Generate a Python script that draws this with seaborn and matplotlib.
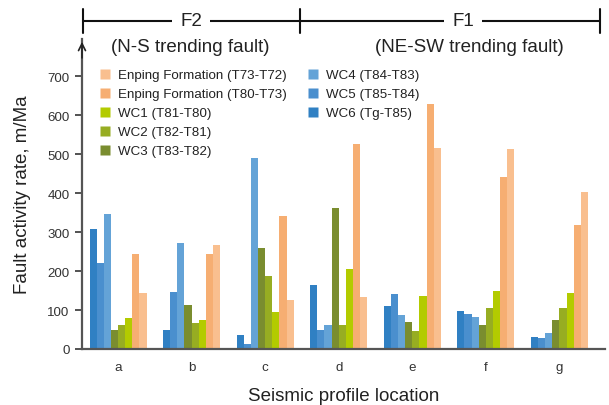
import matplotlib
matplotlib.use("Agg")
import matplotlib.pyplot as plt
from matplotlib.lines import Line2D
import seaborn as sns
import pandas as pd

# ---- data ----
locations = ["a", "b", "c", "d", "e", "f", "g"]
series = ["WC6 (Tg-T85)", "WC5 (T85-T84)", "WC4 (T84-T83)", "WC3 (T83-T82)",
          "WC2 (T82-T81)", "WC1 (T81-T80)", "Enping Formation (T80-T73)",
          "Enping Formation (T73-T72)"]
wc6 = [309, 50, 37, 163, 111, 98, 32]
wc5 = [220, 147, 14, 48, 142, 91, 29]
wc4 = [347, 273, 491, 62, 86, 83, 42]
wc3 = [50, 114, 258, 363, 70, 62, 75]
wc2 = [62, 68, 188, 62, 47, 106, 106]
wc1 = [80, 74, 94, 206, 137, 150, 145]
enping_80_73 = [245, 245, 342, 525, 630, 442, 319]
enping_73_72 = [145, 268, 127, 134, 517, 514, 404]
values = [wc6, wc5, wc4, wc3, wc2, wc1, enping_80_73, enping_73_72]
colors = ["#3080c3", "#4a8fce", "#64a3d7", "#7a8d2f", "#97ad22", "#b3cb00",
          "#f6ae72", "#f9bf8f"]
yticks = [0, 100, 200, 300, 400, 500, 600, 700]

rows = []
for s, vals in zip(series, values):
    for loc, v in zip(locations, vals):
        rows.append({"location": loc, "series": s, "value": v})
df = pd.DataFrame(rows)

sns.set_style("white")
plt.rcParams["font.family"] = ["Liberation Sans", "DejaVu Sans"]

W, H = 609, 406
fig = plt.figure(figsize=(W / 100, H / 100), dpi=100)

def fx(x):
    return x / W

def fy(y):
    return 1 - y / H

ax_top = 40
ax = fig.add_axes([fx(82), fy(350), fx(605) - fx(82), fy(ax_top) - fy(350)])

sns.barplot(data=df, x="location", y="value", hue="series", hue_order=series,
            palette=colors, width=0.776, saturation=1, legend=False, ax=ax,
            errorbar=None, linewidth=0, edgecolor="none")

px_per_unit = (350 - 77.3) / 700
ax.set_ylim(0, (350 - ax_top) / px_per_unit)
ax.set_xlim(-0.49, (605 - 118.5) / 73.5)
ax.set_yticks(yticks)
ax.set_yticklabels([str(t) for t in yticks])
ax.tick_params(axis="y", length=5, width=1.3, color="#444", labelsize=9.6,
               labelcolor="#333", pad=4, left=True)
ax.tick_params(axis="x", length=0, labelsize=9.6, labelcolor="#333", pad=9)
for s in ["top", "right"]:
    ax.spines[s].set_visible(False)
for s in ["left", "bottom"]:
    ax.spines[s].set_color("#555")
    ax.spines[s].set_linewidth(1.6)
ax.set_xlabel("Seismic profile location", fontsize=13.5, color="#222", labelpad=10)
ax.set_ylabel("Fault activity rate, m/Ma", fontsize=13.5, color="#222", labelpad=12)

# arrow head on y axis
ax.annotate("", xy=(0, 1.0), xytext=(0, 0.93), xycoords="axes fraction",
            arrowprops=dict(arrowstyle="->,head_length=0.5,head_width=0.25",
                            lw=1.2, color="#222"), annotation_clip=False)

# legends
leg1_labels = ["Enping Formation (T73-T72)", "Enping Formation (T80-T73)",
               "WC1 (T81-T80)", "WC2 (T82-T81)", "WC3 (T83-T82)"]
leg2_labels = ["WC4 (T84-T83)", "WC5 (T85-T84)", "WC6 (Tg-T85)"]
cmap = dict(zip(series, colors))

def handles(labels):
    return [Line2D([], [], marker="s", linestyle="none", markersize=7.4,
                   markerfacecolor=cmap[l], markeredgecolor="none") for l in labels]

common = dict(loc="upper left", frameon=False, fontsize=9.6, handlelength=0.8,
              handletextpad=0.55, labelspacing=0.5, borderpad=0, borderaxespad=0)
leg1 = fig.legend(handles(leg1_labels), leg1_labels,
                  bbox_to_anchor=(fx(100), fy(70)), **common)
leg2 = fig.legend(handles(leg2_labels), leg2_labels,
                  bbox_to_anchor=(fx(308), fy(70)), **common)
for leg in (leg1, leg2):
    for t in leg.get_texts():
        t.set_color("#222")

# header bracket
yl = 22
fig.add_artist(Line2D([fx(83), fx(600)], [fy(yl), fy(yl)], color="#111", lw=1.5))
for xv in (83, 300, 600):
    fig.add_artist(Line2D([fx(xv), fx(xv)], [fy(yl - 12), fy(yl + 12)],
                          color="#111", lw=1.5))
for label, xc in (("F2", 191), ("F1", 463)):
    fig.text(fx(xc), fy(yl), label, ha="center", va="center", fontsize=13.5,
             color="#222", bbox=dict(facecolor="white", edgecolor="none", pad=6))
fig.text(fx(190.5), fy(48), "(N-S trending fault)", ha="center", va="center",
         fontsize=13.5, color="#222")
fig.text(fx(469.5), fy(48), "(NE-SW trending fault)", ha="center", va="center",
         fontsize=13.5, color="#222")

fig.savefig("out.png", dpi=100)
